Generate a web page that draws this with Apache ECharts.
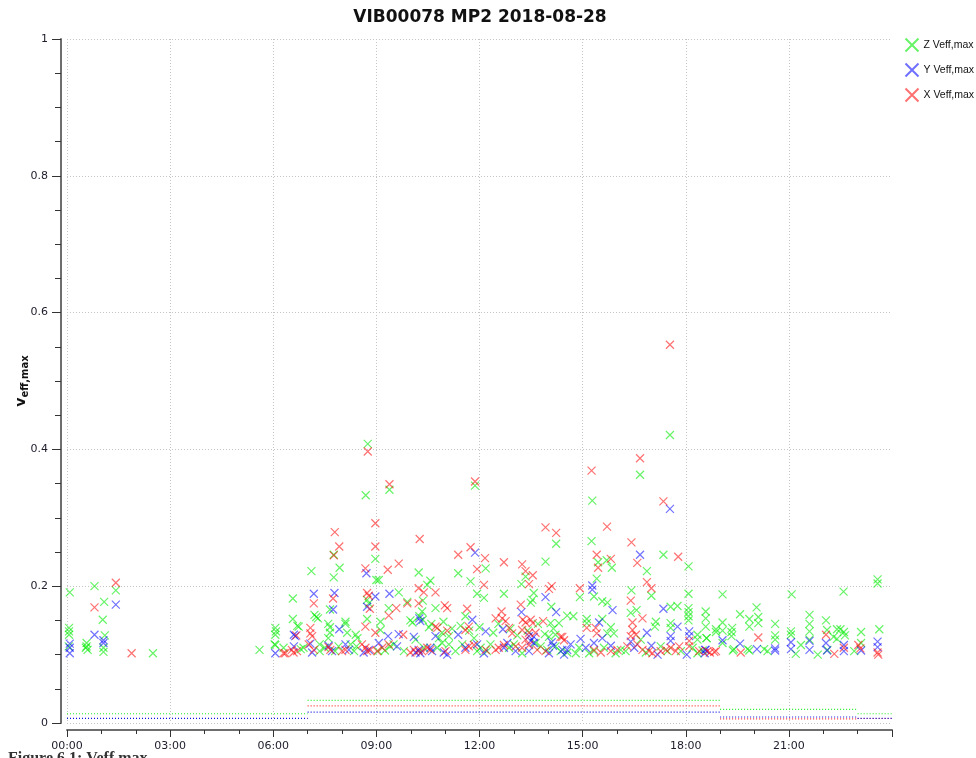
<!DOCTYPE html>
<html>
<head>
<meta charset="utf-8">
<script src="https://cdn.jsdelivr.net/npm/echarts@6/dist/echarts.min.js"></script>
<style>
html,body{margin:0;padding:0;background:#fff;}
#chart{width:976px;height:758px;}
</style>
</head>
<body>
<div id="chart"></div>
<script>
// ---- Data (hour of day, value) ----
const chartTitle = 'VIB00078 MP2 2018-08-28';
const seriesNames = ['Z Veff,max', 'Y Veff,max', 'X Veff,max'];
const xTickLabels = ['00:00','03:00','06:00','09:00','12:00','15:00','18:00','21:00'];

const zPoints = [
  [0.08,0.191],[0.06,0.139],[0.06,0.134],[0.06,0.129],[0.05,0.112],[0.57,0.117],[0.57,0.112],[0.6,0.107],[0.55,0.11],
  [0.8,0.2],[1.08,0.177],[1.04,0.151],[1.1,0.128],[1.06,0.11],[1.06,0.104],[1.42,0.194],[2.5,0.102],[5.6,0.107],
  [6.06,0.139],[6.08,0.134],[6.06,0.129],[6.06,0.114],[6.04,0.115],[6.3,0.11],[6.57,0.182],[6.57,0.152],[6.7,0.142],[6.74,0.141],
  [6.8,0.108],[6.88,0.11],[7.11,0.222],[7.25,0.155],[7.2,0.158],[7.3,0.153],[7.35,0.105],[7.35,0.115],[7.5,0.11],[7.6,0.145],
  [7.65,0.14],[7.65,0.132],[7.6,0.124],[7.65,0.166],[7.76,0.246],[7.76,0.213],[7.93,0.227],[7.8,0.105],[7.9,0.112],[8.1,0.148],
  [8.1,0.145],[8.15,0.132],[8.25,0.115],[8.35,0.105],[8.4,0.129],[8.45,0.124],[8.42,0.112],[8.73,0.18],[8.78,0.175],[8.73,0.152],
  [8.97,0.24],[9.0,0.209],[9.07,0.209],[9.12,0.148],[9.12,0.136],[9.05,0.105],[9.25,0.106],[9.36,0.168],[9.4,0.112],[9.5,0.115],
  [9.65,0.191],[9.8,0.105],[9.9,0.177],[9.99,0.15],[10.05,0.147],[10.23,0.22],
  [8.75,0.408],[8.69,0.333],[9.38,0.341],[11.87,0.347],
  [10.14,0.122],[10.57,0.208],[10.48,0.202],[10.35,0.179],[10.72,0.168],[10.33,0.163],[10.35,0.151],[10.25,0.156],
  [10.53,0.14],[10.91,0.132],[10.82,0.124],[11.11,0.127],[11.38,0.219],[11.74,0.207],[11.59,0.156],[11.93,0.189],[12.13,0.183],
  [12.18,0.226],[12.71,0.189],[13.22,0.203],[13.34,0.214],[13.58,0.19],[13.54,0.18],[13.49,0.176],[13.92,0.236],[14.23,0.262],
  [14.09,0.17],[14.07,0.146],[14.31,0.146],[14.02,0.126],[14.21,0.129],
  [10.38,0.110],[10.77,0.110],[10.91,0.117],[11.11,0.115],[11.3,0.105],[11.5,0.115],[11.84,0.124],[11.93,0.105],[12.03,0.110],
  [12.22,0.105],[12.32,0.115],[12.86,0.110],[13.0,0.115],[13.24,0.102],[13.63,0.117],[13.78,0.112],[13.97,0.107],[14.21,0.112],[14.36,0.105],
  [10.6,0.145],[10.95,0.148],[11.2,0.138],[11.45,0.142],[11.7,0.135],[12.0,0.14],[12.4,0.132],[12.55,0.145],[12.9,0.138],
  [13.1,0.128],[13.4,0.135],[13.7,0.145],[13.9,0.13],[14.15,0.138],
  [15.26,0.266],[17.35,0.246],[15.7,0.238],[15.45,0.235],[15.85,0.227],[18.08,0.229],[16.87,0.222],[15.41,0.211],[17.0,0.186],
  [14.92,0.184],[16.42,0.194],[15.33,0.185],[18.08,0.189],[15.57,0.178],[15.72,0.176],[16.4,0.161],[16.57,0.165],[17.56,0.17],
  [17.76,0.171],[18.08,0.168],[18.08,0.162],[18.08,0.156],[18.08,0.15],[18.58,0.163],[18.58,0.153],[18.58,0.141],[14.55,0.157],
  [14.73,0.156],[15.12,0.152],[15.12,0.146],[15.57,0.152],[17.13,0.148],[17.1,0.141],[17.56,0.146],[17.56,0.139],[15.82,0.14],
  [15.72,0.131],[15.91,0.131],[18.34,0.129],[18.34,0.122],[18.61,0.124],
  [14.55,0.103],[14.8,0.102],[14.9,0.110],[15.19,0.102],[15.33,0.105],[15.62,0.110],[15.96,0.102],[16.11,0.107],[16.25,0.105],
  [16.69,0.122],[16.84,0.103],[17.27,0.112],[17.47,0.105],[17.86,0.105],[18.2,0.110],[18.34,0.102],[18.49,0.106],
  [15.28,0.325],[16.67,0.363],[17.54,0.421],
  [23.58,0.21],[23.58,0.204],[19.07,0.188],[21.08,0.188],[22.59,0.192],[20.06,0.169],[19.58,0.159],[19.85,0.152],[19.85,0.141],
  [20.11,0.155],[20.11,0.146],[19.07,0.147],[19.07,0.135],[18.88,0.137],[18.88,0.133],[19.35,0.139],[19.33,0.133],[19.33,0.127],
  [20.6,0.145],[20.6,0.128],[20.6,0.122],[21.6,0.158],[21.6,0.145],[21.6,0.134],[21.6,0.122],[22.08,0.15],[22.11,0.136],
  [22.4,0.137],[22.5,0.137],[22.4,0.123],[22.6,0.133],[23.1,0.133],[23.63,0.137],[21.06,0.134],[21.06,0.129],[18.6,0.124],
  [19.07,0.117],[19.37,0.106],[19.4,0.108],[19.8,0.108],[19.85,0.106],[20.28,0.108],[20.38,0.105],[21.2,0.101],[21.35,0.114],
  [21.84,0.1],[22.12,0.107],[22.9,0.105],[23.1,0.117],[22.63,0.128],[22.3,0.126]
];

const yPoints = [
  [0.08,0.116],[0.08,0.11],[0.08,0.102],[0.8,0.129],[1.06,0.121],[1.06,0.117],[1.42,0.173],[6.06,0.102],
  [6.6,0.112],[6.6,0.129],[6.64,0.127],[7.18,0.189],[7.08,0.116],[7.13,0.103],[7.74,0.166],[7.78,0.19],[7.61,0.113],
  [7.71,0.105],[7.92,0.137],[8.1,0.115],[8.2,0.107],[8.71,0.219],[8.73,0.17],[8.63,0.103],[8.78,0.107],[8.97,0.185],[9.07,0.117],
  [9.34,0.127],[9.38,0.189],[9.6,0.112],[9.65,0.13],[10.09,0.126],[10.14,0.103],
  [10.23,0.107],[10.28,0.102],[10.25,0.153],[10.28,0.149],[10.57,0.11],[10.72,0.127],[10.62,0.105],[10.96,0.103],[11.06,0.1],
  [11.38,0.129],[11.59,0.110],[11.79,0.151],[11.87,0.249],[11.93,0.115],[12.13,0.102],[12.18,0.134],[12.68,0.137],[12.71,0.11],
  [12.81,0.117],[13.05,0.105],[13.22,0.162],[13.44,0.127],[13.58,0.126],[13.49,0.12],[13.44,0.105],[13.58,0.117],[13.92,0.184],
  [14.02,0.102],[14.1,0.118],[14.14,0.113],[14.23,0.162],[14.41,0.107],
  [15.28,0.201],[15.28,0.195],[16.67,0.246],[15.87,0.165],[17.35,0.167],[15.48,0.147],[17.76,0.141],[16.87,0.132],[18.1,0.134],
  [18.1,0.127],[17.56,0.127],[17.56,0.12],[14.94,0.123],[14.65,0.115],[14.55,0.107],[14.46,0.1],[15.09,0.11],[15.33,0.117],
  [15.57,0.124],[15.82,0.113],[16.4,0.119],[16.5,0.11],[17.0,0.113],[17.18,0.1],[18.03,0.1],[18.58,0.107],
  [17.54,0.313],
  [19.07,0.121],[19.58,0.116],[21.06,0.118],[21.06,0.108],[21.6,0.12],[21.6,0.107],[22.08,0.117],[22.11,0.106],[22.6,0.114],
  [22.6,0.105],[23.1,0.106],[23.58,0.119],[23.58,0.111],[18.56,0.107],[18.55,0.102],[20.07,0.108],[20.6,0.106],[20.6,0.109]
];

const xPoints = [
  [0.8,0.169],[1.42,0.205],[1.88,0.102],[6.3,0.102],
  [8.97,0.292],[7.79,0.279],[7.92,0.258],[7.76,0.245],[8.97,0.258],[10.26,0.269],[9.65,0.233],[9.33,0.224],[8.68,0.226],
  [10.23,0.197],[7.18,0.175],[7.74,0.182],[8.73,0.19],[8.78,0.186],[9.9,0.175],[10.23,0.175],[8.81,0.167],[9.58,0.168],
  [9.36,0.157],[7.08,0.139],[8.68,0.141],[8.97,0.132],[9.78,0.129],[7.08,0.131],[7.13,0.127],[6.67,0.128],[6.35,0.102],
  [6.54,0.107],[6.59,0.103],[6.69,0.105],[7.03,0.115],[7.18,0.107],[7.61,0.111],[7.66,0.107],[8.1,0.107],[8.0,0.105],
  [8.58,0.115],[8.68,0.11],[8.73,0.105],[8.83,0.107],[9.02,0.105],[9.36,0.115],[9.17,0.11],[9.99,0.103],[10.09,0.107],[10.23,0.105],
  [8.75,0.397],[9.38,0.349],[11.87,0.353],[13.92,0.286],[15.71,0.287],[15.26,0.369],[16.67,0.387],[17.35,0.324],[17.54,0.553],
  [11.38,0.246],[11.74,0.257],[12.16,0.241],[12.71,0.235],[11.93,0.225],[13.24,0.232],[13.34,0.222],[13.55,0.216],[14.23,0.278],
  [13.44,0.203],[14.1,0.2],[14.02,0.196],[10.38,0.191],[10.72,0.191],[12.13,0.202],[10.99,0.172],[11.06,0.168],[11.64,0.167],
  [12.64,0.163],[13.2,0.173],[12.47,0.153],[12.66,0.153],[12.76,0.149],[13.26,0.151],[13.34,0.147],[13.49,0.151],[13.55,0.146],
  [13.85,0.149],[10.72,0.141],[10.77,0.139],[11.06,0.135],[11.59,0.136],[11.69,0.141],[12.86,0.139],[12.95,0.131],[13.24,0.136],
  [13.44,0.132],[13.63,0.132],[14.41,0.126],[14.46,0.121],
  [10.33,0.105],[10.48,0.110],[10.57,0.107],[11.01,0.105],[11.59,0.107],[11.69,0.112],[11.84,0.114],[12.18,0.107],[12.47,0.107],
  [12.56,0.110],[12.71,0.114],[13.05,0.112],[13.24,0.110],[13.34,0.122],[13.44,0.114],[13.68,0.107],[13.92,0.105],
  [16.42,0.264],[15.41,0.246],[17.78,0.243],[15.82,0.24],[16.59,0.234],[15.45,0.227],[16.87,0.206],[17.0,0.197],[14.92,0.197],
  [16.4,0.179],[16.74,0.153],[16.45,0.147],[15.12,0.139],[15.38,0.139],[15.41,0.131],[16.45,0.136],[16.55,0.129],[16.4,0.127],
  [18.1,0.12],[18.1,0.112],[14.36,0.126],
  [15.33,0.107],[15.53,0.103],[15.82,0.105],[16.01,0.107],[16.3,0.112],[16.59,0.115],[16.74,0.107],[16.93,0.105],[17.03,0.102],
  [17.27,0.105],[17.42,0.107],[17.56,0.110],[17.71,0.105],[17.81,0.112],[18.39,0.105],[18.63,0.105],
  [20.11,0.125],[22.08,0.129],[22.6,0.11],[23.02,0.114],[23.58,0.103],[18.7,0.103],[18.83,0.104],[18.88,0.105],[19.6,0.103],
  [22.32,0.101],[23.08,0.109],[23.6,0.1]
];

// Limit (threshold) step lines: breakpoints in hours and level per segment
const limitBreaks = [0, 7, 19, 23, 24];
const limitZ = [0.0135, 0.033, 0.020, 0.0135];
const limitY = [0.0068, 0.016, 0.0088, 0.0068];
const limitX = [0.0066, 0.025, 0.006, 0.0066];

// ---- Build ----
function stepData(levels){
  const out = [];
  for (let i = 0; i < levels.length; i++){
    out.push([limitBreaks[i], levels[i]]);
    out.push([limitBreaks[i+1], levels[i]]);
    out.push([limitBreaks[i+1], '-']);
  }
  return out;
}
const crossPath = 'path://M0,0L10,10M10,0L0,10';
const colors = ['rgba(0,235,0,0.75)', 'rgba(0,0,255,0.7)', 'rgba(255,0,0,0.7)'];
const FONT = 'DejaVu Sans';

function scatter(name, data, color){
  return {
    name: name, type: 'scatter', data: data,
    symbol: crossPath, symbolSize: 8,
    itemStyle: { color: 'none', borderColor: color, borderWidth: 1.2 },
    emphasis: { disabled: true }, z: 3
  };
}
function limitLine(levels, color){
  return {
    type: 'line', data: stepData(levels), symbol: 'none', connectNulls: false,
    lineStyle: { color: color, width: 1.2, type: [1, 2] },
    silent: true, z: 2
  };
}

const chart = echarts.init(document.getElementById('chart'), null, { renderer: 'canvas' });
chart.setOption({
  animation: false,
  backgroundColor: '#fff',
  grid: { left: 67, right: 84, top: 39, bottom: 35, containLabel: false },
  legend: {
    orient: 'vertical', left: 903, top: 36, padding: 0, itemWidth: 13, itemHeight: 13, itemGap: 7,
    textStyle: { fontFamily: 'Liberation Sans', fontSize: 10.5, color: '#111', lineHeight: 13 },
    data: seriesNames.map((n) => ({ name: n, icon: crossPath }))
  },
  xAxis: {
    type: 'value', min: 0, max: 24, interval: 3, offset: 7,
    axisLine: { show: true, onZero: false, lineStyle: { color: '#6e6e6e', width: 2 } },
    axisTick: { show: true, length: 7, lineStyle: { color: '#333' } },
    minorTick: { show: true, splitNumber: 3, length: 4, lineStyle: { color: '#333' } },
    axisLabel: { margin: 11, fontFamily: FONT, fontSize: 11, color: '#1c1c2c',
      formatter: (v) => xTickLabels[Math.round(v / 3)] || '' },
    splitLine: { show: true, showMaxLine: false, lineStyle: { color: '#c4c4c4', type: [1, 2] } }
  },
  yAxis: {
    type: 'value', min: 0, max: 1, interval: 0.2, offset: 6,
    axisLine: { show: true, onZero: false, lineStyle: { color: '#6e6e6e', width: 2 } },
    axisTick: { show: true, length: 9, lineStyle: { color: '#333' } },
    minorTick: { show: true, splitNumber: 4, length: 6, lineStyle: { color: '#333' } },
    axisLabel: { margin: 13, fontFamily: FONT, fontSize: 11, color: '#1c1c2c',
      formatter: (v) => String(Math.round(v * 10) / 10) },
    splitLine: { show: true, lineStyle: { color: '#c4c4c4', type: [1, 2] } }
  },
  graphic: [
    { type: 'text', x: 480, y: 18, style: { text: chartTitle, fontFamily: FONT, fontSize: 17, fontWeight: 'bold',
        fill: '#111', align: 'center', verticalAlign: 'middle' } },
    { type: 'text', x: 21, y: 381, rotation: Math.PI / 2,
      style: { text: '{v|v}{s|eff,max}', align: 'center', verticalAlign: 'middle',
        rich: { v: { fontFamily: FONT, fontSize: 14, fontWeight: 'bold', fill: '#111', lineHeight: 18, verticalAlign: 'middle' },
                s: { fontFamily: FONT, fontSize: 10, fontWeight: 'bold', fill: '#111', lineHeight: 18, verticalAlign: 'bottom' } } } },
    { type: 'text', x: 8, y: 751, style: { text: 'Figure 6.1: Veff,max', fontFamily: 'Liberation Serif', fontSize: 16,
        fontWeight: 'bold', fill: '#333', align: 'left', verticalAlign: 'top' } }
  ],
  series: [
    limitLine(limitZ, '#22ee22'),
    limitLine(limitX, '#ff3030'),
    limitLine(limitY, '#1010e0'),
    scatter(seriesNames[0], zPoints, colors[0]),
    scatter(seriesNames[1], yPoints, colors[1]),
    scatter(seriesNames[2], xPoints, colors[2])
  ]
});
</script>
</body>
</html>
